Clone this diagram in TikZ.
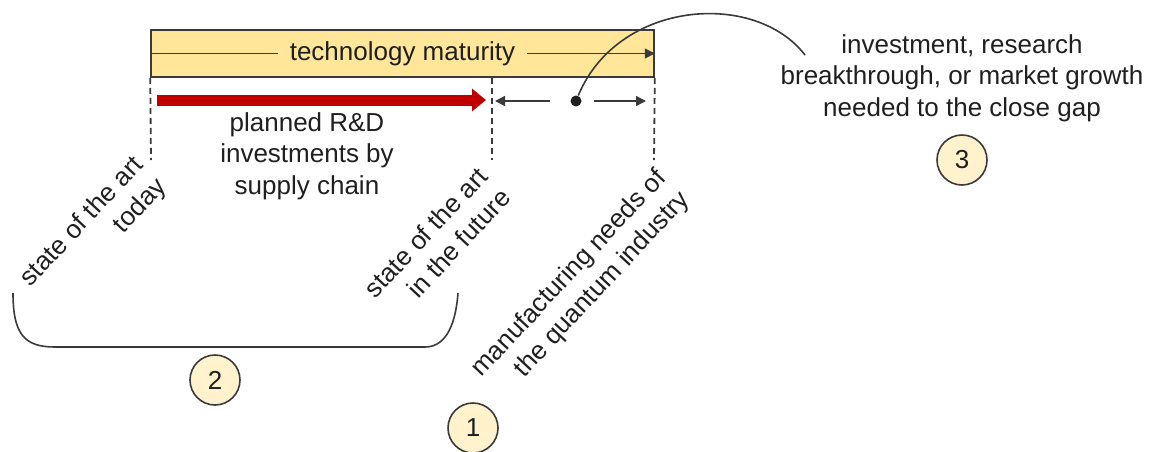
\documentclass[tikz,border=0pt]{standalone}
\usepackage{fontspec}
\setmainfont{Liberation Sans}
\usetikzlibrary{arrows.meta}
\definecolor{barfill}{HTML}{FFE699}
\definecolor{numfill}{HTML}{FFF2CC}
\definecolor{rdred}{HTML}{C00000}
\definecolor{ink}{HTML}{1F1F1F}
\definecolor{edge}{HTML}{3A3A3A}
\tikzset{
  label text/.style={font=\fontsize{13}{15.75}\selectfont, text=ink},
  number/.style={draw=edge, line width=0.8pt, circle, fill=numfill, minimum size=25pt, inner sep=0pt, label text},
  marker/.style={draw=edge, dash pattern=on 3pt off 2pt, line width=0.9pt},
  tilted/.style={label text, rotate=47, anchor=east, align=right, inner sep=0pt},
  thin tip/.style={edge, line width=0.7pt, -{Triangle[length=5pt,width=5pt]}},
}

\begin{document}
\begin{tikzpicture}[x=0.5pt, y=-0.5pt]
	\useasboundingbox (0,0) rectangle (1151,451);
	% Maturity bar
	\node[draw=edge, fill=barfill, line width=0.8pt, minimum width=251.5pt, minimum height=23.5pt, inner sep=0pt] (bar) at (402.5,53.5) {};
	\draw[thin tip] (bar.west) -- (bar.east);
	\node[label text, fill=barfill, inner xsep=6pt, inner ysep=1pt] (maturity) at (bar.center) {technology maturity};
	% Dashed markers
	\coordinate (today) at (151,160);
	\coordinate (future) at (492,160);
	\coordinate (needs) at (654,160);
	\draw[marker] (bar.south west) -- (today);
	\draw[marker] (bar.south west -| future) -- (future);
	\draw[marker] (bar.south east) -- (needs);
	% Planned R&D arrow
	\coordinate (rdstart) at (157,100);
	\coordinate (rdend) at (486,100);
	\draw[rdred, line width=5.5pt, -{Triangle[length=7pt,width=11pt]}] (rdstart) -- (rdend);
	\node[label text, align=center] (rdtext) at (307,156) {planned R\&D\\investments by\\supply chain};
	% Gap arrows
	\node[circle, fill=ink, minimum size=5.5pt, inner sep=0pt] (gapdot) at (576,101) {};
	\coordinate (gapleft) at (495,101);
	\coordinate (gapright) at (646,101);
	\draw[thin tip, shorten <=10pt] (gapdot) -- (gapleft);
	\draw[thin tip, shorten <=6pt] (gapdot) -- (gapright);
	% Callout curve
	\coordinate (calloutend) at (805,55);
	\draw[edge, line width=0.8pt] (gapdot) .. controls (618,0) and (755,-10) .. (calloutend);
	\node[label text, align=center] (gaptext) at (962,78) {investment, research\\breakthrough, or market growth\\needed to the close gap};
	% Rotated labels
	\node[tilted] (todaylbl) at (151,172) {state of the art\\today};
	\node[tilted] (futurelbl) at (494,182) {state of the art\\in the future};
	\node[tilted] (needslbl) at (674,185) {manufacturing needs of\\the quantum industry};
	% Brace under today and future
	\draw[edge, line width=0.8pt] (13,293) .. controls (13,335) and (25,347) .. (55,347) -- (425,347) .. controls (448,347) and (456,320) .. (458,293);
	% Numbered circles
	\node[number] (n1) at (473,428) {1};
	\node[number] (n2) at (215,380) {2};
	\node[number] (n3) at (962,160) {3};
\end{tikzpicture}
\end{document}
